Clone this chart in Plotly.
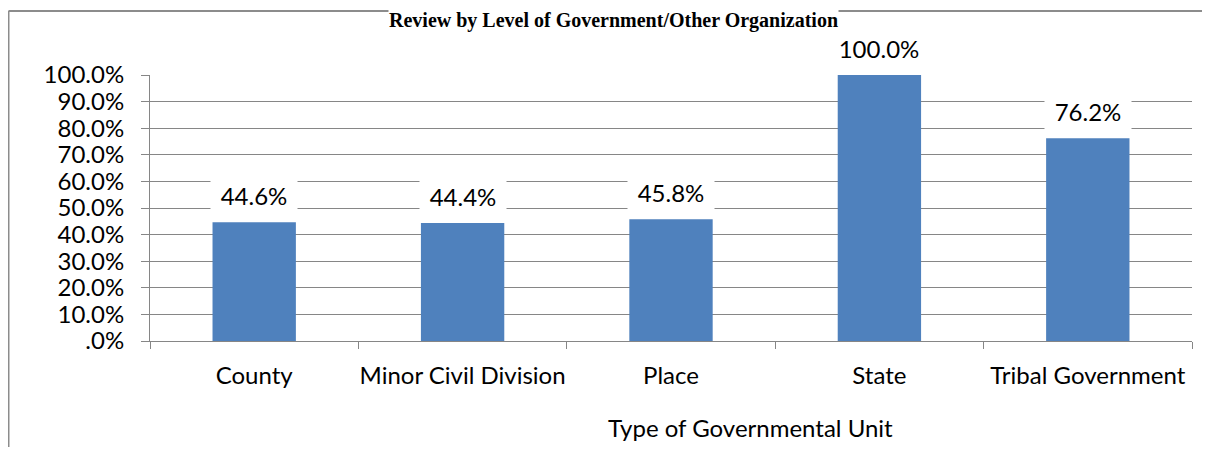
import plotly.graph_objects as go

categories = ["County", "Minor Civil Division", "Place", "State", "Tribal Government"]
values = [0.446, 0.444, 0.458, 1.000, 0.762]
value_labels = ["44.6%", "44.4%", "45.8%", "100.0%", "76.2%"]
y_tickvals = [0, 0.1, 0.2, 0.3, 0.4, 0.5, 0.6, 0.7, 0.8, 0.9, 1.0]
y_ticktext = [".0%", "10.0%", "20.0%", "30.0%", "40.0%", "50.0%", "60.0%", "70.0%", "80.0%", "90.0%", "100.0%"]
title_text = "Review by Level of Government/Other Organization"
x_title = "Type of Governmental Unit"

FONT = "Lato"
FS = 24
GRID = "#868686"
BORDER = "#8c8c8c"

fig = go.Figure()
fig.add_trace(go.Bar(
    x=categories, y=values, width=0.4,
    marker=dict(color="#4f81bd", line=dict(width=0)),
    hoverinfo="skip",
))

for c, v, t in zip(categories, values, value_labels):
    fig.add_annotation(
        x=c, y=v, xref="x", yref="y", text=t, showarrow=False,
        yanchor="middle", yshift=27, bgcolor="white",
        width=84, height=38,
        font=dict(family=FONT, size=FS, color="#000000"),
    )

fig.add_annotation(
    x=0.576, y=-0.327, xref="paper", yref="paper", text=x_title,
    showarrow=False, xanchor="center", yanchor="middle",
    font=dict(family=FONT, size=FS, color="#000000"),
)
fig.add_annotation(
    x=0.445, y=1.2519, xref="paper", yref="paper", text="<b>" + title_text + "</b>",
    showarrow=False, xanchor="center", yanchor="top", bgcolor="white",
    borderpad=0,
    font=dict(family="Liberation Serif", size=20, color="#000000"),
)

# outer chart border (top and left edges visible)
fig.add_shape(
    type="line", xref="paper", yref="paper",
    x0=-0.1358, y0=1.2406, x1=1.0096, y1=1.2406,
    line=dict(color=BORDER, width=2), layer="below",
)
fig.add_shape(
    type="line", xref="paper", yref="paper",
    x0=-0.1358, y0=1.2406, x1=-0.1358, y1=-0.40,
    line=dict(color=BORDER, width=2), layer="below",
)

fig.update_layout(
    width=1194, height=439,
    margin=dict(l=142, r=10, t=67, b=106, autoexpand=False),
    paper_bgcolor="white", plot_bgcolor="white",
    showlegend=False,
    bargap=0.6,
    font=dict(family=FONT, size=FS, color="#000000"),
)
fig.update_xaxes(
    showline=True, linecolor=GRID, linewidth=1,
    ticks="outside", ticklen=7, tickcolor=GRID, tickwidth=1,
    tickson="boundaries", showgrid=False,
    tickangle=0, automargin=False,
    ticklabelstandoff=13,
    tickfont=dict(family=FONT, size=FS, color="#000000"),
)
fig.update_yaxes(
    range=[0, 1], tickvals=y_tickvals, ticktext=y_ticktext,
    showline=True, linecolor=GRID, linewidth=1,
    ticks="outside", ticklen=8, tickcolor=GRID, tickwidth=1,
    showgrid=True, gridcolor=GRID, gridwidth=1,
    zeroline=False, automargin=False,
    ticklabelstandoff=12,
    tickfont=dict(family=FONT, size=FS, color="#000000"),
)

fig.write_html("out.html", config={"displayModeBar": False})
